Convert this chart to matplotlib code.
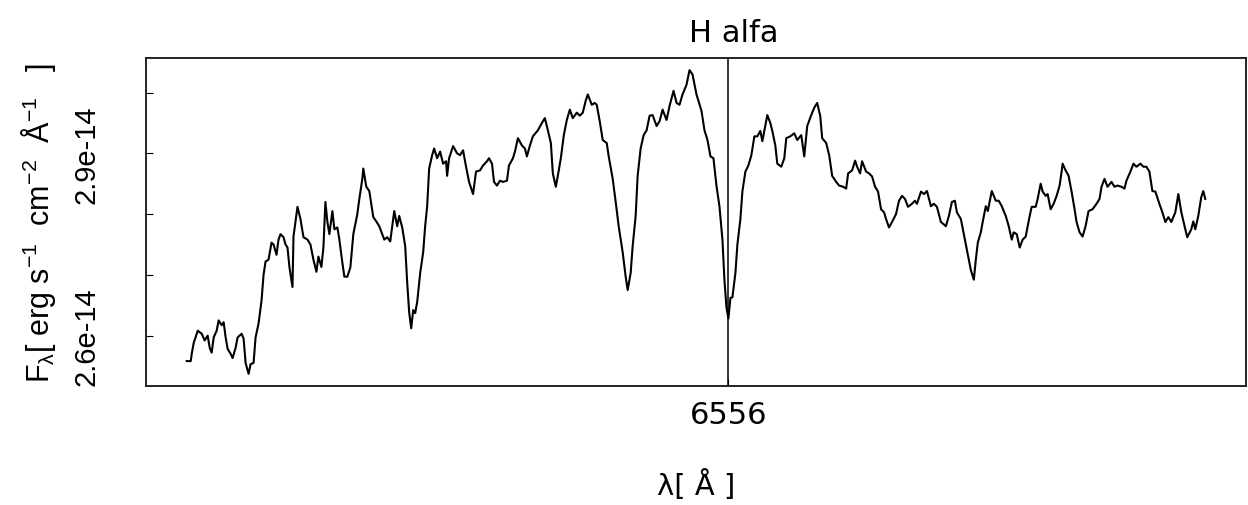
import numpy as np
import matplotlib
matplotlib.use("Agg")
import matplotlib.pyplot as plt

# wavelength in Angstrom
wave = [6545.14, 6545.22, 6545.24, 6545.28, 6545.36, 6545.44, 6545.50, 6545.56, 6545.60, 6545.64,
	6545.68, 6545.74, 6545.78, 6545.84, 6545.88, 6545.92, 6545.96, 6546.02, 6546.06, 6546.12,
	6546.16, 6546.24, 6546.28, 6546.32, 6546.38, 6546.42, 6546.48, 6546.52, 6546.58, 6546.64,
	6546.68, 6546.72, 6546.78, 6546.84, 6546.88, 6546.94, 6546.98, 6547.02, 6547.08, 6547.12,
	6547.16, 6547.20, 6547.26, 6547.28, 6547.32, 6547.36, 6547.42, 6547.48, 6547.56, 6547.62,
	6547.68, 6547.74, 6547.78, 6547.84, 6547.88, 6547.92, 6547.96, 6548.00, 6548.06, 6548.10,
	6548.16, 6548.20, 6548.26, 6548.30, 6548.36, 6548.42, 6548.48, 6548.56, 6548.60, 6548.66,
	6548.68, 6548.74, 6548.80, 6548.88, 6548.94, 6549.00, 6549.06, 6549.10, 6549.16, 6549.22,
	6549.28, 6549.30, 6549.36, 6549.40, 6549.46, 6549.52, 6549.56, 6549.60, 6549.64, 6549.68,
	6549.72, 6549.76, 6549.82, 6549.88, 6549.92, 6549.96, 6550.00, 6550.06, 6550.10, 6550.16,
	6550.22, 6550.28, 6550.34, 6550.36, 6550.40, 6550.48, 6550.56, 6550.62, 6550.68, 6550.74,
	6550.80, 6550.88, 6550.94, 6551.02, 6551.08, 6551.16, 6551.20, 6551.26, 6551.30, 6551.36,
	6551.42, 6551.48, 6551.56, 6551.60, 6551.68, 6551.72, 6551.78, 6551.86, 6551.92, 6551.96,
	6552.02, 6552.08, 6552.18, 6552.26, 6552.32, 6552.38, 6552.44, 6552.48, 6552.54, 6552.58,
	6552.64, 6552.70, 6552.76, 6552.82, 6552.88, 6552.96, 6553.02, 6553.08, 6553.14, 6553.18,
	6553.26, 6553.32, 6553.36, 6553.42, 6553.48, 6553.56, 6553.60, 6553.68, 6553.74, 6553.80,
	6553.88, 6553.94, 6553.98, 6554.04, 6554.08, 6554.14, 6554.18, 6554.24, 6554.30, 6554.36,
	6554.42, 6554.48, 6554.56, 6554.62, 6554.68, 6554.76, 6554.82, 6554.90, 6554.96, 6555.02,
	6555.08, 6555.16, 6555.22, 6555.28, 6555.36, 6555.46, 6555.52, 6555.58, 6555.64, 6555.70,
	6555.76, 6555.82, 6555.88, 6555.92, 6555.96, 6556.00, 6556.04, 6556.08, 6556.14, 6556.18,
	6556.24, 6556.28, 6556.34, 6556.40, 6556.46, 6556.52, 6556.58, 6556.64, 6556.68, 6556.72,
	6556.78, 6556.84, 6556.88, 6556.94, 6556.98, 6557.06, 6557.12, 6557.16, 6557.24, 6557.32,
	6557.38, 6557.46, 6557.52, 6557.58, 6557.66, 6557.72, 6557.78, 6557.84, 6557.88, 6557.96,
	6558.02, 6558.08, 6558.16, 6558.22, 6558.30, 6558.36, 6558.40, 6558.48, 6558.54, 6558.58,
	6558.64, 6558.68, 6558.76, 6558.82, 6558.88, 6558.94, 6559.00, 6559.06, 6559.12, 6559.16,
	6559.22, 6559.28, 6559.36, 6559.42, 6559.48, 6559.54, 6559.60, 6559.68, 6559.74, 6559.78,
	6559.86, 6559.92, 6559.98, 6560.06, 6560.12, 6560.18, 6560.26, 6560.32, 6560.36, 6560.42,
	6560.48, 6560.54, 6560.58, 6560.66, 6560.72, 6560.78, 6560.86, 6560.92, 6560.96, 6561.00,
	6561.06, 6561.10, 6561.16, 6561.20, 6561.26, 6561.28, 6561.36, 6561.42, 6561.48, 6561.56,
	6561.62, 6561.68, 6561.72, 6561.78, 6561.84, 6561.90, 6561.96, 6562.04, 6562.08, 6562.16,
	6562.20, 6562.26, 6562.30, 6562.36, 6562.40, 6562.46, 6562.52, 6562.58, 6562.64, 6562.68,
	6562.70, 6562.76, 6562.82, 6562.88, 6562.94, 6562.98, 6563.04, 6563.10, 6563.16, 6563.22,
	6563.30, 6563.38, 6563.44, 6563.48, 6563.54, 6563.60, 6563.68, 6563.74, 6563.80, 6563.88,
	6563.94, 6563.98, 6564.06, 6564.12, 6564.18, 6564.26, 6564.32, 6564.38, 6564.44, 6564.50,
	6564.56, 6564.64, 6564.70, 6564.76, 6564.82, 6564.88, 6564.96, 6565.02, 6565.08, 6565.16,
	6565.20, 6565.28, 6565.32, 6565.36, 6565.42, 6565.48, 6565.52, 6565.56]

# flux in units of 1e-14 erg/s/cm2/A
flux = [2.558, 2.558, 2.570, 2.588, 2.608, 2.603, 2.592, 2.600, 2.580, 2.572,
	2.597, 2.608, 2.625, 2.617, 2.622, 2.597, 2.578, 2.570, 2.563, 2.580,
	2.597, 2.603, 2.595, 2.555, 2.537, 2.553, 2.555, 2.597, 2.620, 2.658,
	2.700, 2.722, 2.725, 2.753, 2.750, 2.733, 2.758, 2.767, 2.762, 2.750,
	2.745, 2.712, 2.680, 2.763, 2.787, 2.812, 2.792, 2.762, 2.758, 2.750,
	2.725, 2.705, 2.730, 2.713, 2.745, 2.820, 2.787, 2.767, 2.805, 2.775,
	2.778, 2.758, 2.720, 2.697, 2.697, 2.712, 2.767, 2.800, 2.825, 2.858,
	2.875, 2.845, 2.838, 2.795, 2.788, 2.780, 2.767, 2.758, 2.762, 2.755,
	2.792, 2.805, 2.780, 2.797, 2.778, 2.747, 2.687, 2.638, 2.612, 2.642,
	2.637, 2.655, 2.703, 2.737, 2.780, 2.813, 2.875, 2.897, 2.908, 2.892,
	2.903, 2.883, 2.887, 2.863, 2.892, 2.912, 2.900, 2.897, 2.905, 2.878,
	2.853, 2.833, 2.870, 2.872, 2.880, 2.887, 2.892, 2.883, 2.853, 2.847,
	2.855, 2.853, 2.855, 2.880, 2.892, 2.903, 2.925, 2.913, 2.908, 2.895,
	2.913, 2.928, 2.938, 2.950, 2.958, 2.938, 2.917, 2.867, 2.845, 2.863,
	2.892, 2.930, 2.955, 2.972, 2.958, 2.967, 2.962, 2.967, 2.987, 2.997,
	2.980, 2.983, 2.980, 2.953, 2.922, 2.917, 2.895, 2.858, 2.820, 2.780,
	2.737, 2.697, 2.675, 2.703, 2.747, 2.797, 2.863, 2.908, 2.930, 2.938,
	2.962, 2.963, 2.945, 2.953, 2.972, 2.955, 2.978, 3.003, 2.983, 2.980,
	2.997, 3.013, 3.037, 3.030, 2.997, 2.970, 2.938, 2.922, 2.895, 2.892,
	2.847, 2.813, 2.758, 2.692, 2.647, 2.628, 2.662, 2.663, 2.703, 2.750,
	2.792, 2.837, 2.870, 2.880, 2.897, 2.928, 2.928, 2.937, 2.920, 2.937,
	2.963, 2.950, 2.937, 2.913, 2.883, 2.878, 2.892, 2.925, 2.928, 2.933,
	2.922, 2.930, 2.895, 2.945, 2.963, 2.975, 2.983, 2.962, 2.925, 2.917,
	2.897, 2.863, 2.853, 2.847, 2.845, 2.842, 2.867, 2.872, 2.888, 2.878,
	2.867, 2.887, 2.870, 2.867, 2.862, 2.845, 2.837, 2.808, 2.803, 2.792,
	2.778, 2.787, 2.800, 2.822, 2.830, 2.825, 2.812, 2.817, 2.822, 2.817,
	2.837, 2.833, 2.838, 2.813, 2.817, 2.812, 2.787, 2.783, 2.780, 2.797,
	2.820, 2.822, 2.803, 2.792, 2.767, 2.742, 2.708, 2.692, 2.725, 2.753,
	2.770, 2.788, 2.813, 2.805, 2.830, 2.838, 2.822, 2.822, 2.813, 2.797,
	2.780, 2.758, 2.770, 2.767, 2.745, 2.758, 2.763, 2.797, 2.812, 2.812,
	2.825, 2.850, 2.837, 2.830, 2.833, 2.808, 2.817, 2.830, 2.847, 2.870,
	2.883, 2.872, 2.863, 2.837, 2.808, 2.787, 2.770, 2.763, 2.780, 2.805,
	2.808, 2.817, 2.825, 2.845, 2.858, 2.845, 2.853, 2.845, 2.847, 2.845,
	2.842, 2.855, 2.870, 2.883, 2.878, 2.883, 2.878, 2.878, 2.870, 2.838,
	2.837, 2.817, 2.803, 2.787, 2.795, 2.787, 2.803, 2.833, 2.803, 2.775,
	2.762, 2.775, 2.788, 2.775, 2.797, 2.828, 2.838, 2.825]

line_center = 6556
yticks = [2.6, 2.7, 2.8, 2.9, 3.0]
ytick_labels = ["2.6e-14", "", "", "2.9e-14", ""]

plt.rcParams['mathtext.fontset'] = 'custom'
plt.rcParams['mathtext.rm'] = 'Liberation Sans'
plt.rcParams['mathtext.it'] = 'Liberation Sans'
plt.rcParams['mathtext.bf'] = 'Liberation Sans:bold'

wave = np.array(wave)
flux = np.array(flux) * 1e-14

fig = plt.figure(figsize=(12.48, 5.06), dpi=100)
ax = fig.add_axes([146/1248, 119/506, 1100/1248, 328/506])

ax.plot(wave, flux, color='black', lw=1.5)
ax.axvline(line_center, color='black', lw=1.1)

# R style 4% padding
xr = wave.max() - wave.min()
yr = flux.max() - flux.min()
ax.set_xlim(wave.min() - 0.04*xr, wave.max() + 0.04*xr)
ax.set_ylim(flux.min() - 0.04*yr, flux.max() + 0.04*yr)

ax.set_xticks([line_center])
ax.set_xticklabels([str(line_center)], fontsize=22, family='DejaVu Sans')
ax.set_yticks(np.array(yticks) * 1e-14)
ax.set_yticklabels(ytick_labels, fontsize=21, family='Liberation Sans', rotation=90, va='center')
ax.tick_params(axis='x', direction='in', length=5, pad=10)
ax.tick_params(axis='y', direction='in', length=5, pad=33)

for s in ax.spines.values():
	s.set_linewidth(1.4)
	s.set_color('#222222')

ax.set_title("H alfa", fontsize=22, family='DejaVu Sans', x=0.5345, pad=12)
ax.set_xlabel("λ[ Å ]", fontsize=21, family='DejaVu Sans', labelpad=29)
ax.set_ylabel(r"F$_{\lambda}$[ erg s$^{-1}$  cm$^{-2}$  Å$^{-1}$   ]", fontsize=22, family='Liberation Sans', labelpad=10)

fig.savefig("out.png", dpi=100)
